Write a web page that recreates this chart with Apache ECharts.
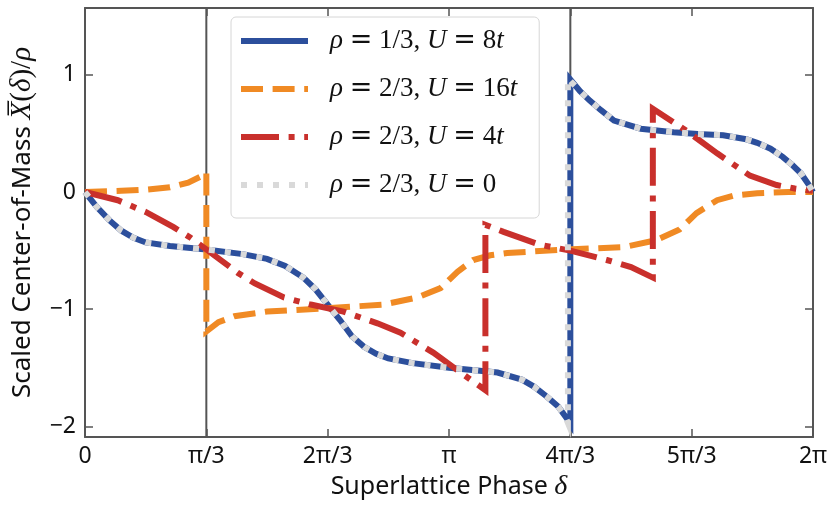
<!DOCTYPE html>
<html>
<head>
<meta charset="utf-8">
<script src="https://cdn.jsdelivr.net/npm/echarts@6/dist/echarts.min.js"></script>
<style>
  html, body { margin: 0; padding: 0; background: #fff; }
  #main { width: 831px; height: 510px; }
</style>
</head>
<body>
<div id="main"></div>
<script>
// x values are the phase delta in units of pi/3
const xTickLabels = ['0', 'π/3', '2π/3', 'π', '4π/3', '5π/3', '2π'];
const yTicks = [-2, -1, 0, 1];
const yMin = -2.09, yMax = 1.57;
const phaseLines = [1, 4];

// rho = 1/3, U = 8t
const xBlue = [0, 0.1, 0.2, 0.3, 0.4, 0.5, 0.7, 1.0, 1.3, 1.5, 1.65, 1.8, 1.9, 2.0, 2.1, 2.2, 2.3, 2.4, 2.5, 2.7, 3.0, 3.4, 3.6, 3.7, 3.8, 3.9, 3.97, 4.0,
               4.0, 4.08, 4.16, 4.25, 4.36, 4.58, 4.85, 5.05, 5.26, 5.45, 5.54, 5.65, 5.75, 5.83, 5.9, 5.96, 6.0];
const yBlue = [0, -0.13, -0.24, -0.33, -0.39, -0.43, -0.46, -0.49, -0.53, -0.57, -0.63, -0.73, -0.83, -0.96, -1.09, -1.23, -1.32, -1.38, -1.42, -1.46, -1.50, -1.54, -1.60, -1.66, -1.74, -1.83, -1.93, -1.98,
               0.96, 0.86, 0.78, 0.70, 0.61, 0.54, 0.51, 0.495, 0.485, 0.45, 0.42, 0.37, 0.30, 0.23, 0.16, 0.07, 0.0];

// rho = 2/3, U = 16t
const xOrange = [0, 0.3, 0.5, 0.7, 0.85, 0.95, 1.0, 1.0, 1.1, 1.23, 1.5, 2.02, 2.46, 2.74, 2.93, 3.07, 3.2, 3.34, 3.48, 3.97, 4.44, 4.71, 4.9, 5.04, 5.21, 5.35, 5.54, 5.8, 6.0];
const yOrange = [0, 0.01, 0.02, 0.04, 0.08, 0.13, 0.17, -1.19, -1.11, -1.06, -1.02, -0.99, -0.96, -0.90, -0.82, -0.68, -0.58, -0.54, -0.52, -0.49, -0.47, -0.41, -0.32, -0.18, -0.07, -0.03, -0.01, 0.0, 0.0];

// rho = 2/3, U = 4t
const xRed = [0, 0.27, 0.5, 0.73, 0.87, 1.0, 1.13, 1.26, 1.4, 1.64, 1.86, 2.13, 2.41, 2.6, 2.87, 3.15, 3.3,
              3.3, 3.45, 3.75, 4.0, 4.3, 4.5, 4.68, 4.68, 4.96, 5.21, 5.48, 5.7, 5.85, 6.0];
const yRed = [0, -0.07, -0.17, -0.30, -0.39, -0.49, -0.59, -0.69, -0.78, -0.90, -0.96, -1.02, -1.12, -1.20, -1.37, -1.58, -1.69,
              -0.28, -0.34, -0.45, -0.50, -0.58, -0.64, -0.73, 0.71, 0.52, 0.33, 0.14, 0.06, 0.03, 0.01];

// rho = 2/3, U = 0
const xGray = [0, 0.1, 0.2, 0.3, 0.4, 0.5, 0.7, 1.0, 1.3, 1.5, 1.65, 1.8, 1.9, 2.0, 2.1, 2.2, 2.3, 2.4, 2.5, 2.7, 3.0, 3.4, 3.6, 3.7, 3.8, 3.9, 3.96, 3.98,
               3.98, 4.08, 4.16, 4.25, 4.36, 4.58, 4.85, 5.05, 5.26, 5.45, 5.54, 5.65, 5.75, 5.83, 5.9, 5.96, 6.0];
const yGray = [0, -0.13, -0.24, -0.33, -0.39, -0.43, -0.46, -0.49, -0.53, -0.57, -0.63, -0.73, -0.83, -0.96, -1.09, -1.23, -1.32, -1.38, -1.42, -1.46, -1.50, -1.54, -1.60, -1.66, -1.74, -1.83, -1.92, -1.97,
               0.97, 0.86, 0.78, 0.70, 0.61, 0.54, 0.51, 0.495, 0.485, 0.45, 0.42, 0.37, 0.30, 0.23, 0.16, 0.07, 0.0];

const seriesNames = ['a', 'b', 'c', 'd'];
const legendText = {
  a: '{i|ρ} {e|=} 1/3, {i|U} {e|=} 8{i|t}',
  b: '{i|ρ} {e|=} 2/3, {i|U} {e|=} 16{i|t}',
  c: '{i|ρ} {e|=} 2/3, {i|U} {e|=} 4{i|t}',
  d: '{i|ρ} {e|=} 2/3, {i|U} {e|=} 0'
};

const pairs = (xs, ys) => xs.map((x, i) => [x, ys[i]]);
const sans = 'Noto Sans';
const serif = 'Liberation Serif';
const axisColor = '#555';
const textColor = '#111';

const chart = echarts.init(document.getElementById('main'));

const mainLine = (name, xs, ys, color, type) => ({
  name: name,
  type: 'line',
  data: pairs(xs, ys),
  symbol: 'none',
  z: 3,
  lineStyle: { color: color, width: 6, type: type, cap: 'butt', join: 'miter' },
  itemStyle: { color: color }
});

const frameAxis = {
  axisLine: { onZero: false, lineStyle: { color: axisColor, width: 2 } },
  axisTick: { inside: true, length: 8, lineStyle: { color: axisColor, width: 1.5 } },
  splitLine: { show: false }
};

const option = {
  animation: false,
  grid: { left: 84, right: 18, top: 8, bottom: 73 },
  xAxis: [
    {
      ...frameAxis,
      type: 'value', min: 0, max: 6, interval: 1,
      axisLabel: { margin: 8, color: textColor, fontSize: 23, fontFamily: sans,
                   formatter: v => xTickLabels[Math.round(v)] },
      name: 'Superlattice Phase {i|δ}',
      nameLocation: 'middle', nameGap: 36,
      nameTextStyle: { color: textColor, fontSize: 25, fontFamily: sans,
                       rich: { i: { fontFamily: serif, fontStyle: 'italic', fontSize: 28, color: textColor } } }
    },
    {
      ...frameAxis,
      type: 'value', position: 'top', min: 0, max: 6, interval: 1,
      axisLabel: { show: false }
    }
  ],
  yAxis: [
    {
      ...frameAxis,
      type: 'value', min: yMin, max: yMax,
      axisTick: { ...frameAxis.axisTick, customValues: yTicks },
      axisLabel: { margin: 9, color: textColor, fontSize: 23, fontFamily: sans, customValues: yTicks,
                   formatter: v => (v < 0 ? '\u2212' + Math.abs(v) : String(v)) },
      name: 'Scaled Center-of-Mass {i|X\u0305}{m|(}{i|δ}{m|)/}{i|ρ}',
      nameLocation: 'middle', nameGap: 48,
      nameTextStyle: { color: textColor, fontSize: 26, fontFamily: sans,
                       rich: {
                         i: { fontFamily: serif, fontStyle: 'italic', fontSize: 29, color: textColor },
                         m: { fontFamily: serif, fontSize: 29, color: textColor }
                       } }
    },
    {
      ...frameAxis,
      type: 'value', position: 'right', min: yMin, max: yMax,
      axisTick: { ...frameAxis.axisTick, customValues: yTicks },
      axisLabel: { show: false }
    }
  ],
  legend: {
    data: seriesNames,
    orient: 'vertical',
    left: 231, top: 17,
    padding: [10, 22, 19, 7],
    itemWidth: 67, itemHeight: 14, itemGap: 20,
    backgroundColor: '#fff',
    borderColor: '#d6d6d6', borderWidth: 1, borderRadius: 5,
    itemStyle: { opacity: 0 },
    lineStyle: { width: 6 },
    formatter: name => '{g|}' + legendText[name],
    textStyle: {
      fontFamily: serif, fontSize: 27, color: textColor, lineHeight: 28,
      rich: {
        g: { width: 17 },
        i: { fontFamily: serif, fontStyle: 'italic', fontSize: 27, color: textColor },
        e: { fontFamily: 'DejaVu Serif', fontSize: 27, color: textColor }
      }
    }
  },
  series: [
    ...phaseLines.map(x => ({
      type: 'line', data: [[x, yMin], [x, yMax]], symbol: 'none', silent: true, z: 1,
      lineStyle: { color: axisColor, width: 2 }
    })),
    mainLine('a', xBlue, yBlue, '#2c4f9c', 'solid'),
    mainLine('b', xOrange, yOrange, '#f08a24', [22, 9.6]),
    mainLine('c', xRed, yRed, '#c9302c', [38, 9.6, 6, 9.6]),
    mainLine('d', xGray, yGray, '#d9d9d9', [6, 10])
  ]
};

chart.setOption(option);
</script>
</body>
</html>
